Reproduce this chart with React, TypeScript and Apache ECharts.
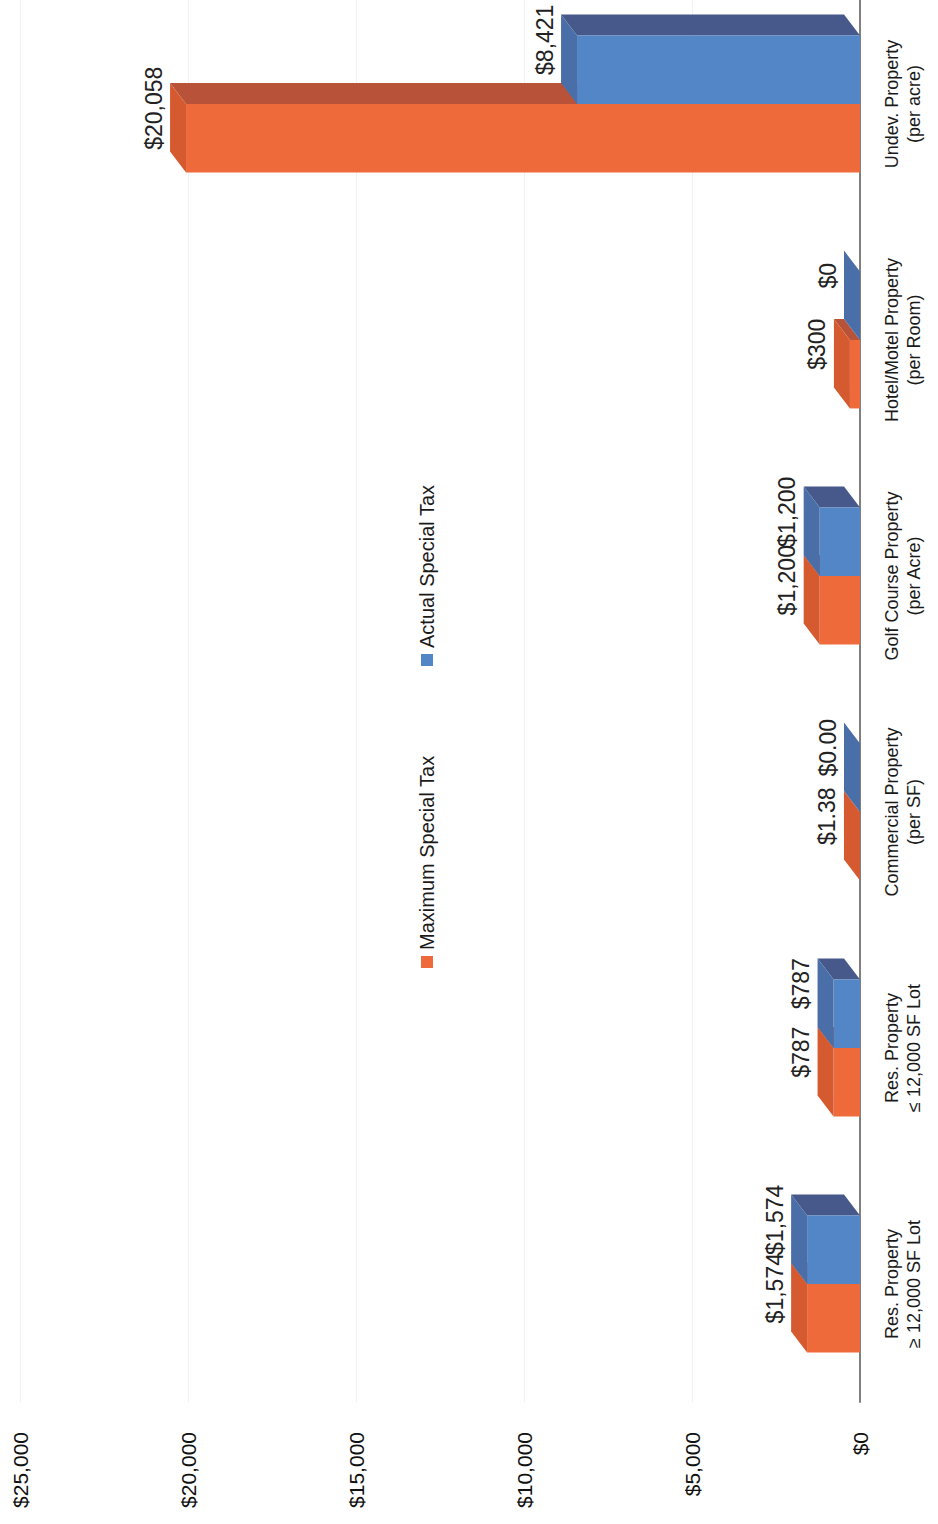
import React, { useEffect, useRef } from 'react';
import * as echarts from 'echarts';

const categories = [
  'Res. Property\n≥ 12,000 SF Lot',
  'Res. Property\n≤ 12,000 SF Lot',
  'Commercial Property\n(per SF)',
  'Golf Course Property\n(per Acre)',
  'Hotel/Motel Property\n(per Room)',
  'Undev. Property\n(per acre)',
];
const maximumSpecialTax = [1574, 787, 1.38, 1200, 300, 20058];
const actualSpecialTax = [1574, 787, 0, 1200, 0, 8421];
const labelDecimals = [0, 0, 2, 0, 0, 0];
const seriesNames = ['Maximum Special Tax', 'Actual Special Tax'];
const valueMin = 0;
const valueMax = 25000;
const valueInterval = 5000;

const palettes = [
  { front: '#EE6A3B', side: '#B8533A', end: '#D65A30', legend: '#EE6A3B' },
  { front: '#5386C6', side: '#46598A', end: '#4A6FA8', legend: '#5386C6' },
];

// container is shifted up so the plot may start slightly above the page edge
const OFF = 20;
const DX = -16;
const DY = -21;
const FONT = 'Liberation Sans, Arial, sans-serif';

function fmt(v: number, dec: number) {
  return '$' + v.toLocaleString('en-US', { minimumFractionDigits: dec, maximumFractionDigits: dec });
}

function render3D(which: number) {
  const pal = palettes[which];
  return (params: any, api: any) => {
    const v = api.value(0) as number;
    const ci = api.value(1) as number;
    const p = api.coord([v, ci]);
    const b = api.coord([0, ci]);
    const band = api.size([0, 1])[1];
    const h = band * 0.29;
    const yTop = which === 0 ? p[1] : p[1] - h;
    const yBot = yTop + h;
    const x1 = p[0];
    const x0 = b[0];
    const txt = fmt(v, labelDecimals[ci]);
    return {
      type: 'group',
      children: [
        {
          type: 'polygon',
          shape: { points: [[x1, yTop], [x0, yTop], [x0 + DX, yTop + DY], [x1 + DX, yTop + DY]] },
          style: { fill: pal.side },
        },
        {
          type: 'rect',
          shape: { x: x1, y: yTop, width: Math.max(0, x0 - x1), height: h },
          style: { fill: pal.front },
        },
        {
          type: 'polygon',
          shape: { points: [[x1, yTop], [x1, yBot], [x1 + DX, yBot + DY], [x1 + DX, yTop + DY]] },
          style: { fill: pal.end },
        },
        {
          type: 'text',
          x: x1 + DX - 5,
          y: (yTop + yBot) / 2 - 30,
          rotation: Math.PI / 2,
          z2: 10,
          style: {
            text: txt,
            align: 'center',
            verticalAlign: 'bottom',
            fontSize: 23,
            fontFamily: FONT,
            fill: '#222',
          },
        },
      ],
    };
  };
}

export default function App() {
  const ref = useRef<HTMLDivElement>(null);
  useEffect(() => {
    if (!ref.current) return;
    const chart = echarts.init(ref.current, null, { renderer: 'svg' });
    chart.setOption({
      animation: false,
      backgroundColor: '#ffffff',
      grid: { left: 20, right: 78, top: OFF - 14, height: 1416, containLabel: false },
      xAxis: {
        type: 'value',
        min: valueMin,
        max: valueMax,
        interval: valueInterval,
        inverse: true,
        position: 'bottom',
        axisLine: { show: false },
        axisTick: { show: false },
        splitLine: { show: true, lineStyle: { color: '#f1f1f1', width: 1 } },
        axisLabel: {
          rotate: 90,
          margin: 30,
          fontSize: 21,
          fontFamily: FONT,
          color: '#111',
          padding: [14, 0, 0, 0],
          formatter: (v: number) => fmt(v, 0),
        },
      },
      yAxis: {
        type: 'category',
        data: categories,
        position: 'right',
        axisLine: { show: true, lineStyle: { color: '#808080', width: 2 } },
        axisTick: { show: false },
        splitLine: { show: false },
        axisLabel: {
          interval: 0,
          rotate: 90,
          margin: 21,
          fontSize: 18,
          lineHeight: 22,
          fontFamily: FONT,
          color: '#1a1a1a',
        },
      },
      graphic: [
        {
          type: 'rect',
          shape: { x: 421, y: 956 + OFF, width: 12, height: 12 },
          style: { fill: palettes[0].legend },
        },
        {
          type: 'text',
          x: 427,
          y: 950 + OFF,
          rotation: Math.PI / 2,
          style: {
            text: seriesNames[0],
            align: 'left',
            verticalAlign: 'middle',
            fontSize: 20,
            fontFamily: FONT,
            fill: '#1a1a1a',
          },
        },
        {
          type: 'rect',
          shape: { x: 421, y: 654 + OFF, width: 12, height: 12 },
          style: { fill: palettes[1].legend },
        },
        {
          type: 'text',
          x: 427,
          y: 648 + OFF,
          rotation: Math.PI / 2,
          style: {
            text: seriesNames[1],
            align: 'left',
            verticalAlign: 'middle',
            fontSize: 20,
            fontFamily: FONT,
            fill: '#1a1a1a',
          },
        },
      ],
      series: [
        {
          name: seriesNames[0],
          type: 'custom',
          renderItem: render3D(0),
          encode: { x: 0, y: 1 },
          data: maximumSpecialTax.map((v, i) => [v, i]),
        },
        {
          name: seriesNames[1],
          type: 'custom',
          renderItem: render3D(1),
          encode: { x: 0, y: 1 },
          data: actualSpecialTax.map((v, i) => [v, i]),
        },
      ],
    });
    return () => chart.dispose();
  }, []);
  return (
    <div
      ref={ref}
      style={{ position: 'absolute', left: 0, top: -OFF, width: 938, height: 1524 + OFF }}
    />
  );
}
